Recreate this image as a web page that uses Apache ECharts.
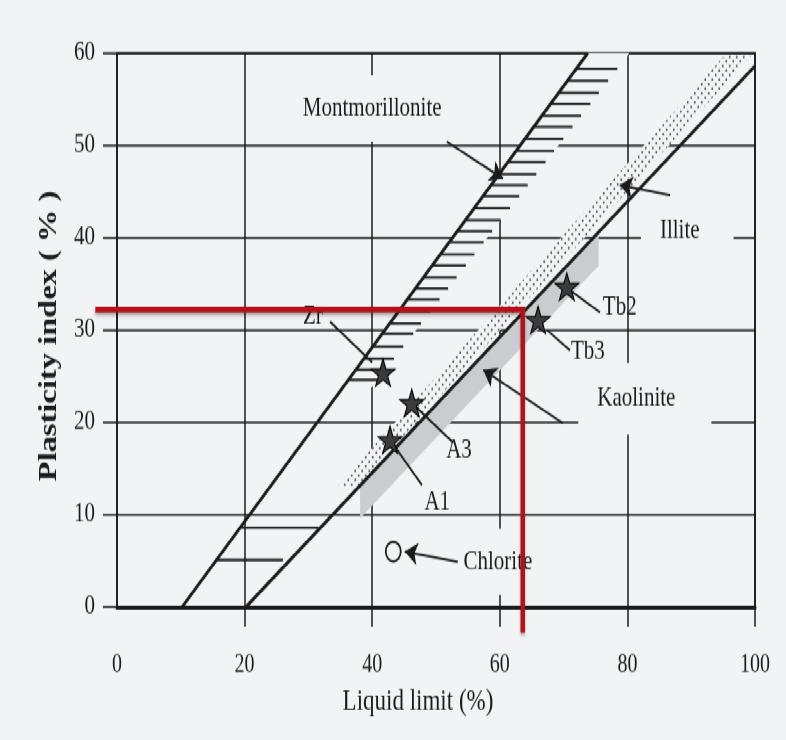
<!DOCTYPE html>
<html><head><meta charset="utf-8">
<script src="https://cdn.jsdelivr.net/npm/echarts@6/dist/echarts.min.js"></script>
<style>
html,body{margin:0;padding:0;background:#f2f3f4;overflow:hidden;width:786px;height:740px;}
#chart{width:786px;height:569px;transform:scaleY(1.3);transform-origin:0 0;}
</style></head><body><div id="chart"></div>
<script>
// ---------- axes ----------
const xTickValues = [20, 40, 60, 80, 100];
const xAxisTitle = 'Liquid limit (%)';
const yAxisTitle = 'Plasticity index ( % )';

// ---------- boundary lines [LL, PI] ----------
const uLine = [[10.2, 0], [73.8, 60]];
const aLine = [[20.2, 0], [100, 58.6]];

// ---------- mineral zones [LL, PI] ----------
const illiteBand = [[34.5, 13], [37.6, 13], [99.5, 59.8], [95.3, 59.8]];
const kaoliniteBand = [[38.1, 13.1], [75.5, 40.6], [75.5, 37.0], [38.1, 9.6]];
const montHatchPI = [58.3, 57.0, 55.7, 54.5, 53.2, 52.0, 50.7, 49.4, 48.2, 46.9, 45.7, 44.5, 43.2, 41.9,
                     40.7, 39.5, 38.2, 37.0, 35.7, 34.5, 33.3, 32.0, 30.7, 29.6, 28.2, 26.9, 25.7, 24.6];
const lowHatchStartLL = [15.4, 19.1];
const lowHatchEndLL = [26.0, 31.6];
const lowHatchPI = [5.1, 8.6];

// ---------- samples ----------
const sampleNames = ['Zr', 'A3', 'A1', 'Tb3', 'Tb2'];
const sampleLL = [41.7, 46.2, 42.8, 66.0, 70.5];
const samplePI = [25.4, 22.1, 18.1, 31.1, 34.7];
const sampleLabelLL = [30.7, 53.6, 50.2, 73.8, 78.8];
const samplePILabel = [31.5, 17.0, 11.3, 27.7, 32.4];
const sampleLeaderFrom = [[33.4, 30.9], [46.2, 22.1], [42.8, 18.1], [67.4, 30.0], [71.0, 34.3]];
const sampleLeaderTo = [[40.0, 26.5], [52.7, 17.8], [47.8, 13.2], [71.0, 27.8], [75.7, 31.9]];
const chloritePoint = [43.3, 6.0];

// ---------- zone labels ----------
const zoneNames = ['Montmorillonite', 'Illite', 'Kaolinite', 'Chlorite'];
const zoneLabelLL = [40.0, 88.2, 81.4, 59.7];
const zoneLabelPI = [53.3, 39.2, 21.7, 4.3];
const zoneArrowFrom = [[51.7, 50.4], [86.7, 44.6], [69.9, 19.9], [53.4, 4.9]];
const zoneArrowTo = [[60.5, 46.4], [78.8, 45.7], [57.4, 25.7], [45.1, 6.0]];

// ---------- reference lines ----------
const refLL = 63.6, refPI = 32.2;
const refStartLL = -3.4, refEndPI = -2.8;

// ---------- styling ----------
const FONT = '"Liberation Serif", "Times New Roman", serif';
const INK = '#1b1b1b';
const BG = '#f2f3f4';
const RED = '#b3121a';
const zonePads = [[20, 4, 10, 4], [26, 34, 3, 19], [23, 36, 11, 19], [19, 4, 11, 4]];
const STAR = 'path://M12,0 L14.9,8.6 L24,8.6 L16.6,14 L19.4,22.6 L12,17.3 L4.6,22.6 L7.4,14 L0,8.6 L9.1,8.6 Z';

function interpLL(line, pi) {
  const a = line[0], b = line[1];
  return a[0] + (pi - a[1]) * (b[0] - a[0]) / (b[1] - a[1]);
}
function hatchLen(pi) { return 29 + (pi - 24) * 0.35; }

// dotted pattern for the illite band
const pat = document.createElement('canvas');
pat.width = 7; pat.height = 7;
const pc = pat.getContext('2d');
pc.fillStyle = '#555555';
pc.beginPath(); pc.arc(1.75, 1.75, 0.95, 0, Math.PI * 2); pc.fill();
pc.beginPath(); pc.arc(5.25, 5.25, 0.95, 0, Math.PI * 2); pc.fill();

const chart = echarts.init(document.getElementById('chart'), null, { renderer: 'canvas' });

const option = {
  animation: false,
  backgroundColor: BG,
  grid: { left: 117, top: 40.8, width: 638, height: 426.1, show: true, borderColor: INK, borderWidth: 1.7, backgroundColor: 'transparent' },
  xAxis: {
    type: 'value', min: 0, max: 100, interval: 20,
    axisLine: { show: true, onZero: false, lineStyle: { color: INK, width: 3 } },
    axisTick: { show: true, length: 15, customValues: xTickValues, lineStyle: { color: INK, width: 1.5 } },
    axisLabel: { margin: 35, color: INK, fontSize: 20, fontFamily: FONT },
    splitLine: { show: true, lineStyle: { color: INK, width: 1.5 } },
    name: xAxisTitle, nameLocation: 'middle', nameGap: 62,
    nameTextStyle: { color: INK, fontSize: 23, fontFamily: FONT, padding: [0, 36, 0, 0] }
  },
  yAxis: {
    type: 'value', min: 0, max: 60, interval: 10,
    axisLine: { show: true, lineStyle: { color: INK, width: 1.5 } },
    axisTick: { show: true, length: 14, lineStyle: { color: INK, width: 1.5 } },
    axisLabel: { margin: 22, color: INK, fontSize: 21, fontFamily: FONT },
    splitLine: { show: true, lineStyle: { color: INK, width: 1.5 } },
    name: yAxisTitle, nameLocation: 'middle', nameGap: 55,
    nameTextStyle: { color: INK, fontSize: 25, fontWeight: 'bold', fontFamily: FONT, padding: [0, 9, 0, 0] }
  },
  series: [
    { // zones
      type: 'custom', z: 2, silent: true, data: [[50, 30]],
      renderItem: function (params, api) {
        const ill = illiteBand.map(q => api.coord(q));
        const kao = kaoliniteBand.map(q => api.coord(q));
        const pB = api.coord([interpLL(uLine, 23.8), 23.8]);
        const pT = api.coord([interpLL(uLine, 60), 60]);
        return { type: 'group', children: [
          { type: 'polygon', shape: { points: ill }, style: { fill: BG } },
          { type: 'polygon', shape: { points: ill }, style: { fill: { image: pat, repeat: 'repeat' } } },
          { type: 'polygon', shape: { points: kao }, style: { fill: '#cbccd0' } },
          { type: 'polygon', shape: { points: [pB, pT, [pT[0] + hatchLen(60), pT[1]], [pB[0] + hatchLen(23.8), pB[1]]] }, style: { fill: BG } }
        ] };
      }
    },
    { type: 'line', z: 3, data: uLine, showSymbol: false, silent: true, lineStyle: { color: INK, width: 2.8 } },
    { type: 'line', z: 3, data: aLine, showSymbol: false, silent: true, lineStyle: { color: INK, width: 2.8 } },
    { // montmorillonite hatching
      type: 'custom', z: 3, silent: true,
      data: montHatchPI.map(pi => [interpLL(uLine, pi), pi]),
      renderItem: function (params, api) {
        const p = api.coord([api.value(0), api.value(1)]);
        return { type: 'line', shape: { x1: p[0], y1: p[1], x2: p[0] + hatchLen(api.value(1)), y2: p[1] }, style: { stroke: INK, lineWidth: 1.9 } };
      }
    },
    { // low hatching between the lines
      type: 'custom', z: 3, silent: true,
      data: lowHatchPI.map((pi, i) => [lowHatchStartLL[i], pi, lowHatchEndLL[i]]),
      renderItem: function (params, api) {
        const p0 = api.coord([api.value(0), api.value(1)]);
        const p1 = api.coord([api.value(2), api.value(1)]);
        return { type: 'line', shape: { x1: p0[0], y1: p0[1], x2: p1[0], y2: p1[1] }, style: { stroke: INK, lineWidth: 1.9 } };
      }
    },
    { // zone labels
      type: 'custom', z: 4, silent: true,
      data: zoneNames.map((n, i) => [zoneLabelLL[i], zoneLabelPI[i], i]),
      renderItem: function (params, api) {
        const i = api.value(2), pad = zonePads[i];
        const c = api.coord([api.value(0), api.value(1)]);
        return { type: 'text', x: c[0] - (pad[3] - pad[1]) / 2, y: c[1] - (pad[0] - pad[2]) / 2,
          style: { text: zoneNames[i], fontSize: 21, fontFamily: FONT, fill: INK, align: 'center', verticalAlign: 'middle', backgroundColor: BG, padding: pad } };
      }
    },
    { // sample labels
      type: 'custom', z: 4, silent: true,
      data: sampleNames.map((n, i) => [sampleLabelLL[i], samplePILabel[i], i]),
      renderItem: function (params, api) {
        const c = api.coord([api.value(0), api.value(1)]);
        return { type: 'text', x: c[0], y: c[1],
          style: { text: sampleNames[api.value(2)], fontSize: 21, fontFamily: FONT, fill: INK, align: 'center', verticalAlign: 'middle' } };
      }
    },
    { // arrows to zones
      type: 'lines', coordinateSystem: 'cartesian2d', z: 5, silent: true,
      symbol: ['none', 'arrow'], symbolSize: 13,
      lineStyle: { color: INK, width: 1.7, opacity: 1 },
      data: zoneArrowFrom.map((f, i) => ({ coords: [f, zoneArrowTo[i]] }))
    },
    { // sample leaders
      type: 'lines', coordinateSystem: 'cartesian2d', z: 5, silent: true,
      symbol: ['none', 'none'],
      lineStyle: { color: INK, width: 1.7, opacity: 1 },
      data: sampleLeaderFrom.map((f, i) => ({ coords: [f, sampleLeaderTo[i]] }))
    },
    { type: 'scatter', z: 6, silent: true, symbol: STAR, symbolSize: [24, 21],
      itemStyle: { color: '#3b3b3b', borderColor: '#000', borderWidth: 1, opacity: 1 },
      data: sampleLL.map((v, i) => [v, samplePI[i]]) },
    { type: 'scatter', z: 6, silent: true, symbol: 'circle', symbolSize: 15,
      itemStyle: { color: BG, borderColor: INK, borderWidth: 1.8, opacity: 1 },
      data: [chloritePoint] },
    { // red reference lines
      type: 'custom', z: 10, silent: true, data: [[refLL, refPI]],
      renderItem: function (params, api) {
        return { type: 'polyline', shape: { points: [api.coord([refStartLL, refPI]), api.coord([refLL, refPI]), api.coord([refLL, refEndPI])] },
          style: { stroke: RED, lineWidth: 4.5, fill: 'none', lineJoin: 'miter', shadowColor: 'rgba(0,0,0,0.3)', shadowBlur: 3, shadowOffsetY: 2 } };
      }
    }
  ]
};
chart.setOption(option);
</script></body></html>
